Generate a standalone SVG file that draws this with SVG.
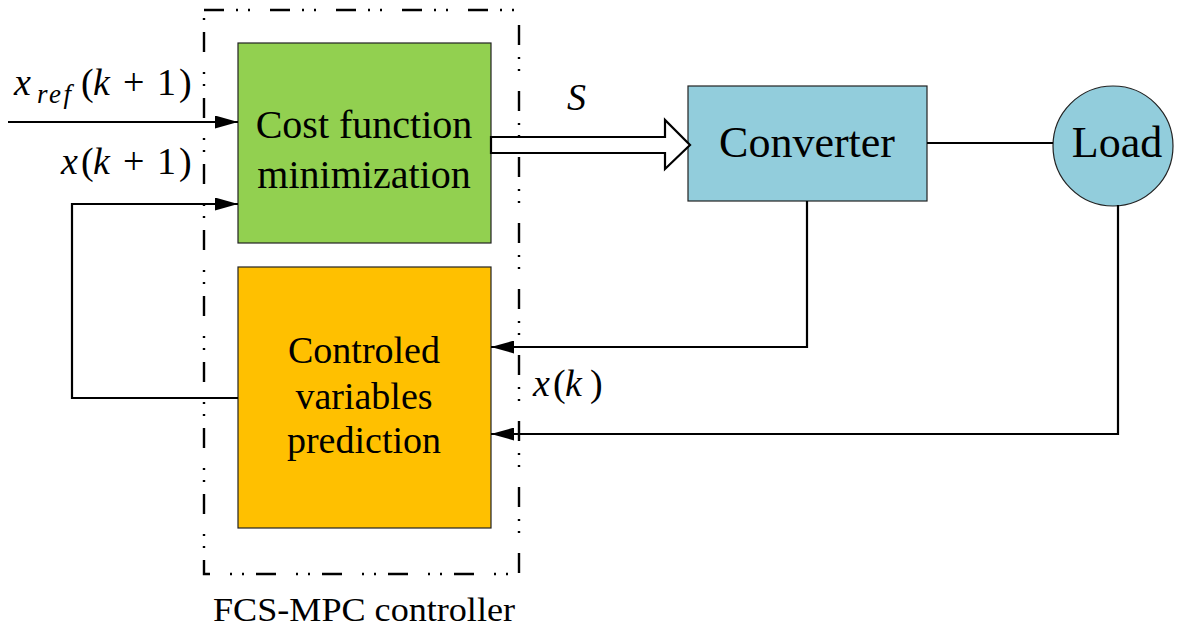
<svg xmlns="http://www.w3.org/2000/svg" width="1179" height="630" viewBox="0 0 1179 630">
<style>
.box{stroke:#222;stroke-width:1.2}
text{font-family:"Liberation Serif","DejaVu Serif",serif;fill:#000}
.t{text-anchor:middle}
.m{font-style:italic}
.n{font-style:normal}
.ln{fill:none;stroke:#000;stroke-width:2.2}
</style>
<defs>
<marker id="ah" viewBox="0 0 23 13" refX="23" refY="6.5" markerWidth="23" markerHeight="13" markerUnits="userSpaceOnUse" orient="auto">
<path d="M0,0 L23,6.5 L0,13 z" fill="#000"/>
</marker>
</defs>
<rect width="1179" height="630" fill="#fff"/>
<g id="controller">
<rect x="204" y="10" width="315" height="564" fill="none" stroke="#000" stroke-width="2.4" stroke-dasharray="20 12 2 10 2 20"/>
<text x="213" y="621" font-size="34" textLength="302" lengthAdjust="spacingAndGlyphs">FCS-MPC controller</text>
</g>
<g id="cost">
<rect class="box" x="238" y="43" width="253" height="200" fill="#92d050"/>
<text class="t" x="364" y="138" font-size="40">Cost function</text>
<text class="t" x="364" y="188" font-size="40">minimization</text>
</g>
<g id="prediction">
<rect class="box" x="238" y="267" width="253" height="261" fill="#ffc000"/>
<text class="t" x="364" y="363" font-size="38">Controled</text>
<text class="t" x="364" y="409" font-size="38">variables</text>
<text class="t" x="364" y="453" font-size="38">prediction</text>
</g>
<g id="converter">
<rect class="box" x="688" y="86" width="239" height="115" fill="#92cddc"/>
<text class="t" x="807" y="157" font-size="44">Converter</text>
</g>
<g id="load">
<circle class="box" cx="1113" cy="146" r="60" fill="#92cddc"/>
<text class="t" x="1117" y="157" font-size="44">Load</text>
</g>
<g id="connectors">
<path class="ln" d="M8,122 H238" marker-end="url(#ah)"/>
<path class="ln" d="M238,398 H72 V204 H238" marker-end="url(#ah)"/>
<path d="M491,137 H665 V120 L690,145 L665,169 V153 H491 Z" fill="#fff" stroke="#000" stroke-width="2.2" stroke-linejoin="miter"/>
<path class="ln" d="M927,143 H1053" stroke-width="3"/>
<path class="ln" d="M807,201 V347 H491" marker-end="url(#ah)"/>
<path class="ln" d="M1118,205 V434 H491" marker-end="url(#ah)"/>
</g>
<g id="labels">
<text class="m" font-size="38" y="95"><tspan x="14">x</tspan><tspan x="37" y="103" font-size="27" textLength="34" lengthAdjust="spacing">ref</tspan><tspan class="n" x="81" y="95">(</tspan><tspan x="93">k</tspan><tspan class="n" x="123">+</tspan><tspan class="n" x="157">1</tspan><tspan class="n" x="179">)</tspan></text>
<text class="m" font-size="38" y="174"><tspan x="61">x</tspan><tspan class="n" x="81">(</tspan><tspan x="93">k</tspan><tspan class="n" x="123">+</tspan><tspan class="n" x="157">1</tspan><tspan class="n" x="179">)</tspan></text>
<text class="m" font-size="38" x="567" y="110">S</text>
<text class="m" font-size="38" y="396"><tspan x="533">x</tspan><tspan class="n" x="553">(</tspan><tspan x="565">k</tspan><tspan class="n" x="590">)</tspan></text>
</g>
</svg>
